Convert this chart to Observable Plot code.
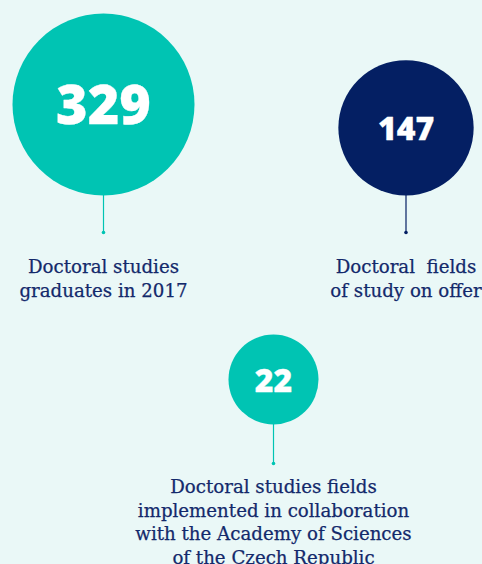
<!DOCTYPE html>
<html>
<head>
<meta charset="utf-8">
<script src="https://cdn.jsdelivr.net/npm/d3@7"></script>
<script src="https://cdn.jsdelivr.net/npm/@observablehq/plot@0.6"></script>
<style>
  html, body { margin: 0; padding: 0; background: #eaf8f7; }
  #chart svg { display: block; }
</style>
</head>
<body>
<div id="chart"></div>
<script>
// ---- data ----
const values = [329, 147, 22];
const labels = [
  "Doctoral studies\ngraduates in 2017",
  "Doctoral  fields\nof study on offer",
  "Doctoral studies fields\nimplemented in collaboration\nwith the Academy of Sciences\nof the Czech Republic"
];

// ---- layout (positions / styles, kept apart from data) ----
const anchorX = [103, 405.5, 273];   // circle centre x
const baseY = [195, 195, 424];       // circle bottom y
const labelTopY = [256, 256, 476];   // label cap top
const fills = ["#00c4b3", "#041f63", "#00c4b3"];
const numSizes = [54, 32, 32];
const stemLen = [37, 37, 39];

const rOpts = {type: "pow", exponent: 0.7, domain: [22, 329], range: [45, 91]};
const rScale = Plot.scale({r: rOpts});

const rows = values.map((v, i) => {
  const r = rScale.apply(v);
  return {
    value: v, label: labels[i], x: anchorX[i],
    cy: baseY[i] - r, bottom: baseY[i], stemEnd: baseY[i] + stemLen[i],
    labelY: labelTopY[i], fill: fills[i], numSize: numSizes[i]
  };
});

const chart = Plot.plot({
  width: 482,
  height: 564,
  margin: 0,
  x: {domain: [0, 482], range: [0, 482], axis: null},
  y: {domain: [0, 564], range: [0, 564], axis: null},
  r: rOpts,
  style: {background: "#eaf8f7"},
  marks: [
    Plot.ruleX(rows, {x: "x", y1: "bottom", y2: "stemEnd", stroke: d => d.fill, strokeWidth: 1.2}),
    Plot.dot(rows, {x: "x", y: "stemEnd", r: 1.8, fill: d => d.fill, stroke: null}),
    Plot.dot(rows, {x: "x", y: "cy", r: "value", fill: d => d.fill, stroke: null}),
    Plot.text(rows, {
      x: "x", y: d => d.cy + 2, text: d => String(d.value),
      fill: "white", stroke: "white", strokeWidth: 0.3,
      fontSize: d => d.numSize, fontWeight: 800,
      fontFamily: "'Open Sans', sans-serif"
    }),
    Plot.text(rows, {
      x: "x", y: "labelY", text: "label", lineAnchor: "top",
      fill: "#13296b", stroke: "#13296b", strokeWidth: 0.25,
      fontSize: 18.2, lineHeight: 1.29,
      fontFamily: "'DejaVu Serif', serif"
    })
  ]
});
document.getElementById("chart").append(chart);
</script>
</body>
</html>
